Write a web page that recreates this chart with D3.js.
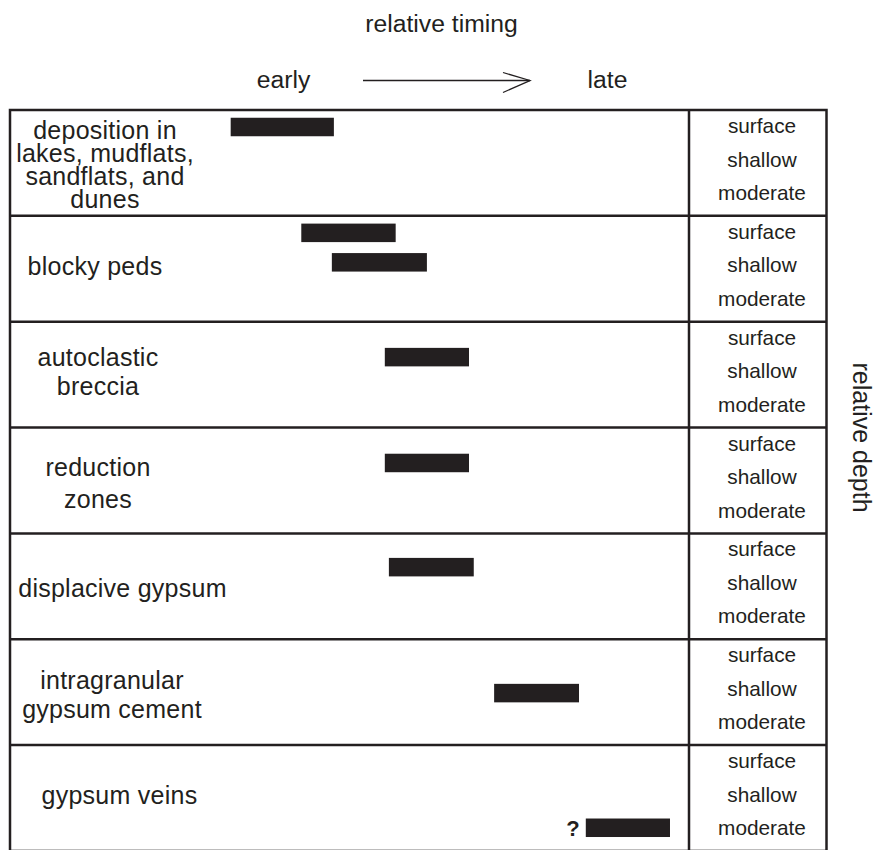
<!DOCTYPE html>
<html>
<head>
<meta charset="utf-8">
<script src="https://cdn.jsdelivr.net/npm/d3@7"></script>
<style>
  html, body { margin: 0; padding: 0; background: #fff; }
  svg { display: block; }
  text { font-family: "Liberation Sans", Arial, Helvetica, sans-serif; fill: #231f20; }
</style>
</head>
<body>
<svg id="chart" width="877" height="850"></svg>
<script>
// ---------------- data ----------------
const processes = [
  ["deposition in", "lakes, mudflats,", "sandflats, and", "dunes"],
  ["blocky peds"],
  ["autoclastic", "breccia"],
  ["reduction", "zones"],
  ["displacive gypsum"],
  ["intragranular", "gypsum cement"],
  ["gypsum veins"]
];
const depthLabels = ["surface", "shallow", "moderate"];
// bars: row index, start & end of relative timing (0 = early, 100 = late), relative depth (0 surface .. 2 moderate)
const barRow   = [0, 1, 1, 2, 3, 4, 5, 6];
const barStart = [32.5, 42.9, 47.4, 55.2, 55.2, 55.8, 71.3, 84.8];
const barEnd   = [47.7, 56.8, 61.4, 67.6, 67.6, 68.3, 83.8, 97.2];
const barDepth = [0, 0, 0.88, 0.55, 0.55, 0.5, 1.1, 1.96];
const barNote  = ["", "", "", "", "", "", "", "?"];
const titleText = "relative timing";
const earlyText = "early";
const lateText = "late";
const depthTitle = "relative depth";

// ---------------- layout (positions / styles) ----------------
const boxLeft = 10, boxRight = 826.5, divX = 689, boxTop = 110, rowH = 105.85;
const labelCx = [105, 95, 98, 98, 122.5, 112, 119.5];
const labelY0 = [28.5, 59, 44.7, 48, 64, 49.3, 59];
const labelDy = [23.3, 0, 28.3, 32, 0, 29, 0];
const ink = "#231f20";

const svg = d3.select("#chart");

const x = d3.scaleLinear().domain([0, 100]).range([boxLeft, divX]);
const rowScale = d3.scaleBand().domain(d3.range(processes.length))
  .range([boxTop, boxTop + rowH * processes.length]).paddingInner(0).paddingOuter(0);
const depth = d3.scaleLinear().domain([0, 2]).range([17, 84]);   // offset inside a row
const depthText = d3.scalePoint().domain(depthLabels).range([23, 90]);

// header
svg.append("text").attr("x", 441.5).attr("y", 32).attr("text-anchor", "middle")
  .attr("font-size", 24.7).text(titleText);
svg.append("text").attr("x", 283.5).attr("y", 88).attr("text-anchor", "middle")
  .attr("font-size", 24.7).text(earlyText);
svg.append("text").attr("x", 607.5).attr("y", 88).attr("text-anchor", "middle")
  .attr("font-size", 24.7).text(lateText);
svg.append("line").attr("x1", 363).attr("x2", 530).attr("y1", 80.5).attr("y2", 80.5)
  .attr("stroke", ink).attr("stroke-width", 1.3);
svg.append("path").attr("d", "M503,72.5 L530,80.5 L503,92.5")
  .attr("fill", "none").attr("stroke", ink).attr("stroke-width", 1.3);

// right title
svg.append("text").attr("transform", "translate(862,437.5) rotate(90)")
  .attr("text-anchor", "middle").attr("dominant-baseline", "central")
  .attr("font-size", 25).text(depthTitle);

// rows
const rows = svg.append("g").selectAll("g.row").data(processes).join("g")
  .attr("class", "row").attr("transform", (d, i) => `translate(0,${rowScale(i)})`);

rows.each(function(lines, i) {
  const g = d3.select(this);
  g.append("text").attr("text-anchor", "middle").attr("font-size", 25)
    .attr("letter-spacing", 0.25)
    .selectAll("tspan").data(lines).join("tspan")
    .attr("x", labelCx[i]).attr("y", (l, j) => labelY0[i] + j * labelDy[i]).text(l => l);
  g.selectAll("text.depth").data(depthLabels).join("text").attr("class", "depth")
    .attr("x", 762).attr("y", dl => depthText(dl)).attr("text-anchor", "middle")
    .attr("font-size", 20.8).text(dl => dl);
});

// bars
const barH = 18.5;
const bars = d3.range(barRow.length);
svg.append("g").selectAll("rect").data(bars).join("rect")
  .attr("x", i => x(barStart[i]))
  .attr("width", i => x(barEnd[i]) - x(barStart[i]))
  .attr("y", i => rowScale(barRow[i]) + depth(barDepth[i]) - barH / 2)
  .attr("height", barH)
  .attr("fill", ink);
svg.append("g").selectAll("text").data(bars.filter(i => barNote[i])).join("text")
  .attr("x", i => x(barStart[i]) - 6)
  .attr("y", i => rowScale(barRow[i]) + depth(barDepth[i]) + 8)
  .attr("text-anchor", "end").attr("font-size", 22).attr("font-weight", "bold")
  .text(i => barNote[i]);

// grid lines
const gl = svg.append("g").attr("stroke", ink).attr("stroke-width", 2.5).attr("fill", "none");
const bottom = boxTop + rowH * processes.length;
gl.append("rect").attr("x", boxLeft).attr("y", boxTop)
  .attr("width", boxRight - boxLeft).attr("height", bottom - boxTop);
gl.append("line").attr("x1", divX).attr("x2", divX).attr("y1", boxTop).attr("y2", bottom);
gl.selectAll("line.h").data(d3.range(1, processes.length)).join("line").attr("class", "h")
  .attr("x1", boxLeft).attr("x2", boxRight)
  .attr("y1", i => rowScale(i)).attr("y2", i => rowScale(i));
</script>
</body>
</html>
